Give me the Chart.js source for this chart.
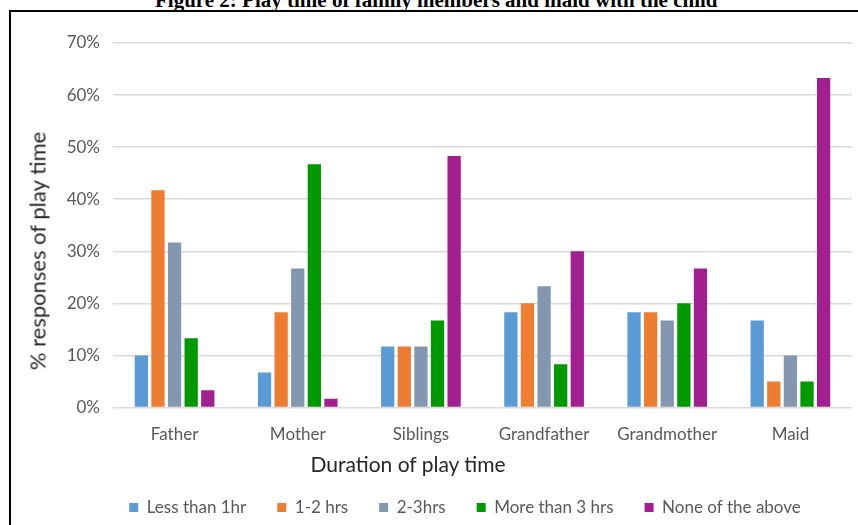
<!DOCTYPE html>
<html lang="en">
  <head>
    <meta charset="UTF-8" />
    <title>Play time of family members and maid with the child</title>
    <script src="https://cdn.jsdelivr.net/npm/chart.js"></script>
    <style>
      body { margin: 0; width: 858px; height: 525px; overflow: hidden; background: #fff; position: relative; }
      .fig-title { position: absolute; left: 155px; top: -12px; line-height: 21px; white-space: nowrap;
                   font: bold 21px "Liberation Serif", "Times New Roman", serif; color: #000; }
      .frame { position: absolute; left: 9px; top: 10px; width: 900px; height: 600px;
               border-left: 2px solid #000; border-top: 2px solid #000; }
      .axis-title { position: absolute; white-space: nowrap; font-family: Lato, sans-serif; color: #262626;
                    transform: translate(-50%, -50%); }
      #yTitle { left: 37px; top: 251px; font-size: 22px; transform: translate(-50%, -50%) rotate(-90deg); }
      #xTitle { left: 408px; top: 463px; font-size: 21px; }
      canvas { position: absolute; left: 0; top: 0; }
    </style>
  </head>
  <body>
    <div class="fig-title">Figure 2: Play time of family members and maid with the child</div>
    <div class="frame"></div>
    <canvas id="playChart" width="858" height="526"></canvas>
    <div class="axis-title" id="yTitle">% responses of play time</div>
    <div class="axis-title" id="xTitle">Duration of play time</div>

    <script>
      // % of responses per family member
      const categories = ['Father', 'Mother', 'Siblings', 'Grandfather', 'Grandmother', 'Maid'];
      const lessThan1hr = [10, 6.7, 11.7, 18.3, 18.3, 16.7];
      const oneToTwoHrs = [41.7, 18.3, 11.7, 20, 18.3, 5];
      const twoToThreeHrs = [31.7, 26.7, 11.7, 23.3, 16.7, 10];
      const moreThan3Hrs = [13.3, 46.7, 16.7, 8.3, 20, 5];
      const noneOfAbove = [3.3, 1.7, 48.3, 30, 26.7, 63.3];
      const seriesNames = ['Less than 1hr', '1-2 hrs', '2-3hrs', 'More than 3 hrs', 'None of the above'];
      const yMin = 0, yMax = 70, yStep = 10;

      Chart.defaults.font.family = 'Lato, sans-serif';
      Chart.defaults.color = '#595959';

      // move the legend right, under the middle of the whole figure
      const legendShift = {
        id: 'legendShift',
        afterLayout(chart) {
          chart.legend.left += 34;
          chart.legend.right += 34;
        }
      };

      const ctx = document.getElementById('playChart').getContext('2d');
      new Chart(ctx, {
        type: 'bar',
        data: {
          labels: categories,
          datasets: [
            { label: seriesNames[0], data: lessThan1hr, backgroundColor: '#5B9BD5' },
            { label: seriesNames[1], data: oneToTwoHrs, backgroundColor: '#ED7D31' },
            { label: seriesNames[2], data: twoToThreeHrs, backgroundColor: '#8497B0' },
            { label: seriesNames[3], data: moreThan3Hrs, backgroundColor: '#009A00' },
            { label: seriesNames[4], data: noneOfAbove, backgroundColor: '#A21F91' }
          ]
        },
        options: {
          responsive: false,
          animation: false,
          categoryPercentage: 0.674,
          barPercentage: 0.8,
          layout: { padding: { left: 10, right: 6, top: 43, bottom: 0 } },
          scales: {
            x: {
              grid: { display: false },
              border: { display: false },
              ticks: { padding: 9, font: { size: 17 }, color: '#595959' },
              afterFit: (scale) => { scale.height = 60.5; }
            },
            y: {
              min: yMin,
              max: yMax,
              grid: { color: '#d9d9d9', lineWidth: 1.5, drawTicks: false },
              border: { display: false },
              ticks: {
                stepSize: yStep,
                padding: 13,
                font: { size: 17 },
                color: '#595959',
                callback: (v) => v + '%'
              },
              afterFit: (scale) => { scale.width = 103; }
            }
          },
          plugins: {
            tooltip: { enabled: false },
            legend: {
              position: 'bottom',
              labels: {
                boxWidth: 9,
                boxHeight: 9,
                padding: 31,
                color: '#595959',
                font: { size: 17 }
              }
            }
          }
        },
        plugins: [legendShift]
      });
    </script>
  </body>
</html>
